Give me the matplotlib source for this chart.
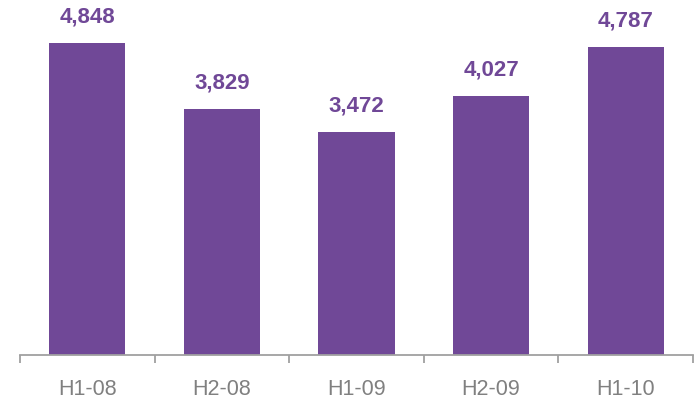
import matplotlib.pyplot as plt
import numpy as np

periods = ["H1-08", "H2-08", "H1-09", "H2-09", "H1-10"]
values = [4848, 3829, 3472, 4027, 4787]

purple = "#704897"
grey = "#a0a0a0"

plt.rcParams["font.family"] = ["Liberation Sans", "DejaVu Sans"]

fig = plt.figure(figsize=(6.98, 3.99), dpi=100)
ax = fig.add_axes([20 / 698, 44 / 399, 673 / 698, 355 / 399])

x = np.arange(len(periods))
bars = ax.bar(x, values, width=0.565, color=purple)

for xi, v in zip(x, values):
    ax.annotate(f"{v:,}", (xi, v), xytext=(0, 14.5), textcoords="offset points",
                ha="center", va="baseline", fontsize=16, fontweight="bold",
                color=purple)

ax.set_xlim(-0.5, len(periods) - 0.5)
ax.set_ylim(0, 5515)

for side in ["top", "right", "left"]:
    ax.spines[side].set_visible(False)
ax.spines["bottom"].set_color(grey)
ax.spines["bottom"].set_linewidth(1.3)
ax.set_yticks([])

# labels sit between the boundary ticks
ax.set_xticks(x)
ax.set_xticklabels(periods, fontsize=15.5, color="#808080")
ax.tick_params(axis="x", which="major", length=0, pad=17)
ax.set_xticks(np.arange(-0.5, len(periods)), minor=True)
ax.tick_params(axis="x", which="minor", length=5.5, width=1.3, color=grey)

fig.savefig("out.png", dpi=100)
